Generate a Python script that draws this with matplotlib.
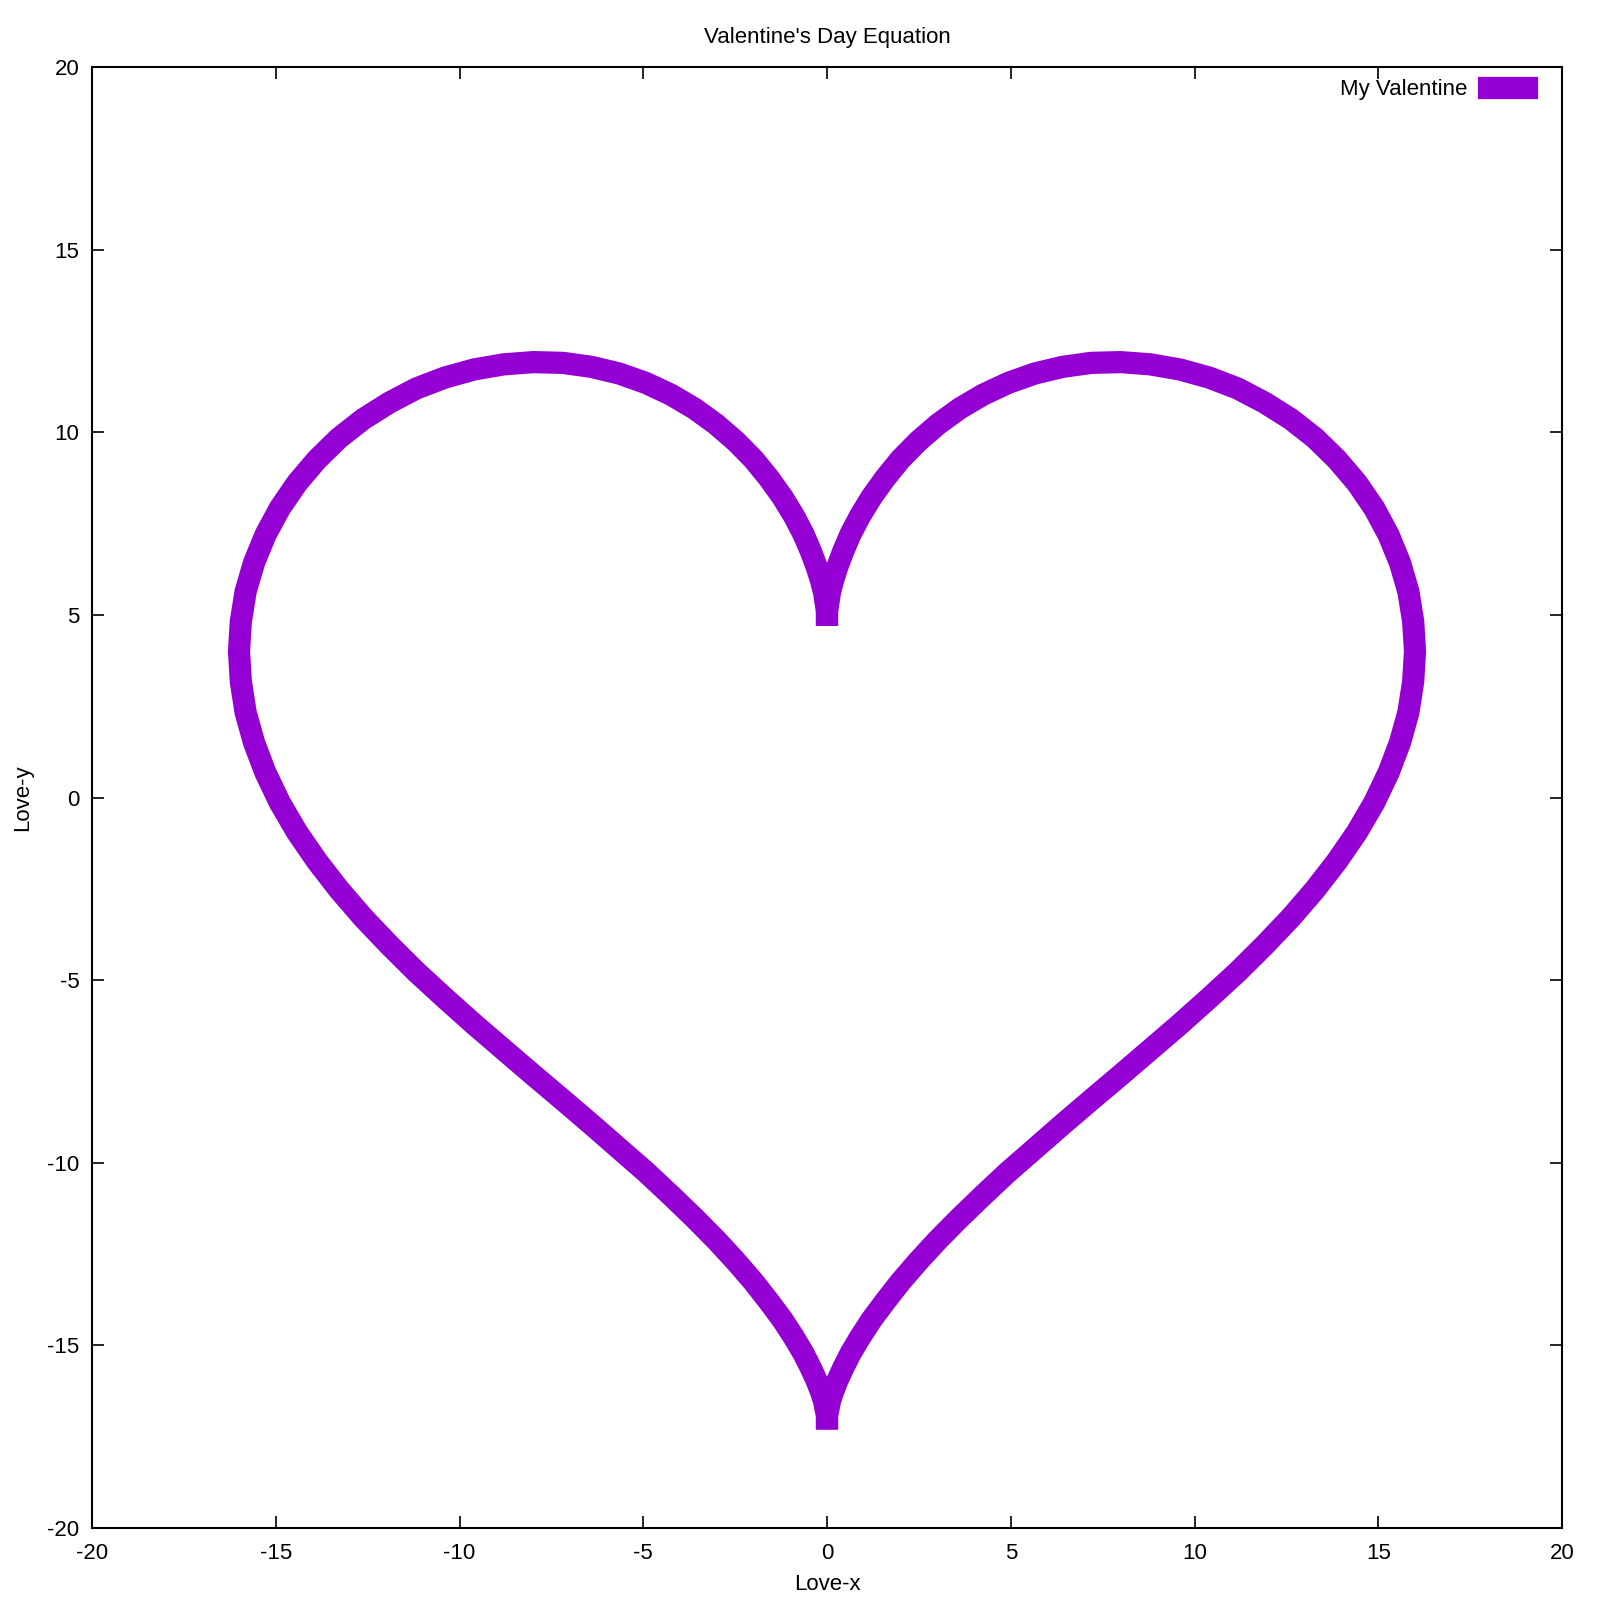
import matplotlib
matplotlib.use("Agg")
import matplotlib.pyplot as plt

plt.rcParams['font.family'] = ['Liberation Sans', 'DejaVu Sans']
plt.rcParams['axes.unicode_minus'] = False

# Heart outline (right half: top cusp -> bottom tip)
x_right = [0.00, 0.00, 0.01, 0.04, 0.08, 0.16, 0.28, 0.44, 0.64, 0.90, 1.21, 1.58,
           2.00, 2.48, 3.02, 3.61, 4.25, 4.93, 5.66, 6.41, 7.19, 7.99, 8.79, 9.60,
           10.39, 11.17, 11.91, 12.62, 13.28, 13.88, 14.42, 14.89, 15.28, 15.59, 15.82, 15.95,
           16.00, 15.95, 15.82, 15.59, 15.28, 14.89, 14.42, 13.88, 13.28, 12.62, 11.91, 11.17,
           10.39, 9.60, 8.79, 7.99, 7.19, 6.41, 5.66, 4.93, 4.25, 3.61, 3.02, 2.48,
           2.00, 1.58, 1.21, 0.90, 0.64, 0.44, 0.28, 0.16, 0.08, 0.04, 0.01, 0.00, 0.00]
y_right = [5.00, 5.04, 5.15, 5.35, 5.61, 5.93, 6.31, 6.74, 7.21, 7.71, 8.22, 8.74,
           9.26, 9.75, 10.22, 10.65, 11.03, 11.35, 11.61, 11.79, 11.90, 11.92, 11.86, 11.72,
           11.50, 11.20, 10.81, 10.36, 9.84, 9.25, 8.61, 7.92, 7.19, 6.43, 5.64, 4.82,
           4.00, 3.17, 2.33, 1.50, 0.68, -0.14, -0.95, -1.74, -2.52, -3.29, -4.04, -4.78,
           -5.50, -6.21, -6.91, -7.60, -8.28, -8.95, -9.61, -10.25, -10.89, -11.51, -12.11, -12.70,
           -13.26, -13.80, -14.30, -14.78, -15.22, -15.62, -15.97, -16.28, -16.53, -16.74, -16.88, -16.97, -17.00]
# Left half: bottom tip -> top cusp
x_left = [0.00, 0.00, -0.01, -0.04, -0.08, -0.16, -0.28, -0.44, -0.64, -0.90, -1.21, -1.58,
          -2.00, -2.48, -3.02, -3.61, -4.25, -4.93, -5.66, -6.41, -7.19, -7.99, -8.79, -9.60,
          -10.39, -11.17, -11.91, -12.62, -13.28, -13.88, -14.42, -14.89, -15.28, -15.59, -15.82, -15.95,
          -16.00, -15.95, -15.82, -15.59, -15.28, -14.89, -14.42, -13.88, -13.28, -12.62, -11.91, -11.17,
          -10.39, -9.60, -8.79, -7.99, -7.19, -6.41, -5.66, -4.93, -4.25, -3.61, -3.02, -2.48,
          -2.00, -1.58, -1.21, -0.90, -0.64, -0.44, -0.28, -0.16, -0.08, -0.04, -0.01, 0.00, 0.00]
y_left = [-17.00, -16.97, -16.88, -16.74, -16.53, -16.28, -15.97, -15.62, -15.22, -14.78, -14.30, -13.80,
          -13.26, -12.70, -12.11, -11.51, -10.89, -10.25, -9.61, -8.95, -8.28, -7.60, -6.91, -6.21,
          -5.50, -4.78, -4.04, -3.29, -2.52, -1.74, -0.95, -0.14, 0.68, 1.50, 2.33, 3.17,
          4.00, 4.82, 5.64, 6.43, 7.19, 7.92, 8.61, 9.25, 9.84, 10.36, 10.81, 11.20,
          11.50, 11.72, 11.86, 11.92, 11.90, 11.79, 11.61, 11.35, 11.03, 10.65, 10.22, 9.75,
          9.26, 8.74, 8.22, 7.71, 7.21, 6.74, 6.31, 5.93, 5.61, 5.35, 5.15, 5.04, 5.00]

ticks = [-20, -15, -10, -5, 0, 5, 10, 15, 20]
tick_labels = ["-20", "-15", "-10", "-5", "0", "5", "10", "15", "20"]

color = "#9400D3"
lw = 16
fs = 16

fig = plt.figure(figsize=(16, 16), dpi=100)
ax = fig.add_axes([92/1600, 1 - 1528/1600, 1470/1600, 1461/1600])

ax.plot(x_right, y_right, color=color, lw=lw, solid_capstyle='projecting',
        solid_joinstyle='round', label="My Valentine")
ax.plot(x_left, y_left, color=color, lw=lw, solid_capstyle='projecting',
        solid_joinstyle='round')

ax.set_xlim(-20, 20)
ax.set_ylim(-20, 20)
ax.set_xticks(ticks)
ax.set_xticklabels(tick_labels)
ax.set_yticks(ticks)
ax.set_yticklabels(tick_labels)
ax.tick_params(direction='in', length=8.5, width=1.2, top=True, right=True,
               labelsize=fs, color='black')
ax.tick_params(axis='x', pad=10.5)
ax.tick_params(axis='y', pad=9)
for s in ax.spines.values():
    s.set_linewidth(1.5)

ax.set_title("Valentine's Day Equation", fontsize=fs, pad=17)
ax.set_xlabel("Love-x", fontsize=fs, labelpad=7.5)
ax.set_ylabel("Love-y", fontsize=fs, labelpad=10)

ax.legend(loc='upper right', bbox_to_anchor=(0.9762, 0.9915), frameon=False,
          markerfirst=False, fontsize=fs, handlelength=1.7, handletextpad=1.0,
          borderaxespad=0, borderpad=0)

fig.savefig("out.png", dpi=100)
